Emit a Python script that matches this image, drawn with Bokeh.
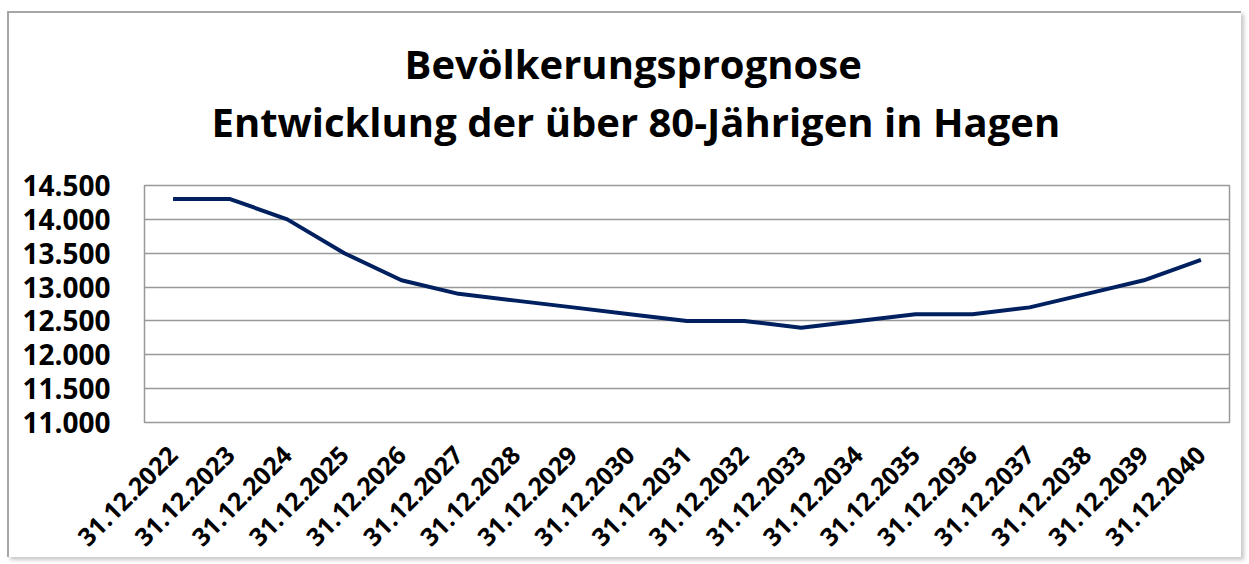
import math
from bokeh.plotting import figure
from bokeh.models import FactorRange, Range1d, FixedTicker, Title
from bokeh.embed import file_html
from bokeh.resources import INLINE

categories = ["31.12.%d" % y for y in range(2022, 2041)]
values = [14300, 14300, 14000, 13500, 13100, 12900, 12800, 12700, 12600, 12500,
          12500, 12400, 12500, 12600, 12600, 12700, 12900, 13100, 13400]
y_ticks = [11000, 11500, 12000, 12500, 13000, 13500, 14000, 14500]
y_tick_labels = ["11.000", "11.500", "12.000", "12.500", "13.000", "13.500", "14.000", "14.500"]
title_lines = ["Bevölkerungsprognose", "Entwicklung der über 80-Jährigen in Hagen"]

FONT = "Open Sans"

p = figure(x_range=FactorRange(*categories, range_padding=0),
           y_range=Range1d(11000, 14500),
           frame_width=1085, frame_height=237,
           output_backend="svg", toolbar_location=None,
           title=None, min_border_left=135, min_border_right=12,
           min_border_top=172, min_border_bottom=134)
p.margin = (11, 0, 0, 7)
p.styles = {"border-top": "2px solid #a6a6a6", "border-left": "2px solid #a6a6a6",
            "box-shadow": "3px 3px 4px #c8c8c8"}

# spacer between plot area and the title lines
spacer = Title(text=" ", text_font=FONT, text_font_size="1px", standoff=33)
t2 = Title(text=title_lines[1], align="left", offset=67, text_font=FONT,
           text_font_size="40px", text_font_style="bold", text_color="black", standoff=2)
t1 = Title(text=title_lines[0], align="left", offset=260, text_font=FONT,
           text_font_size="40px", text_font_style="bold", text_color="black", standoff=0)
p.add_layout(spacer, "above")
p.add_layout(t2, "above")
p.add_layout(t1, "above")

p.line(categories, values, line_color="#002060", line_width=4)

p.yaxis.ticker = FixedTicker(ticks=y_ticks)
p.yaxis.major_label_overrides = {t: l for t, l in zip(y_ticks, y_tick_labels)}
for ax in (p.xaxis, p.yaxis):
    ax.axis_line_color = None
    ax.major_tick_line_color = None
    ax.minor_tick_line_color = None
    ax.major_label_text_font = FONT
    ax.major_label_text_font_style = "bold"
    ax.major_label_text_color = "black"
p.yaxis.major_label_text_font_size = "28px"
p.xaxis.major_label_text_font_size = "25px"
p.yaxis.major_label_standoff = 28
p.xaxis.major_label_orientation = math.pi / 4
p.xaxis.major_label_standoff = 22

p.xgrid.grid_line_color = None
p.ygrid.grid_line_color = "#999999"
p.ygrid.grid_line_width = 1.5
p.outline_line_color = "#999999"
p.outline_line_width = 1.5

open("out.html", "w").write(file_html(p, INLINE))
